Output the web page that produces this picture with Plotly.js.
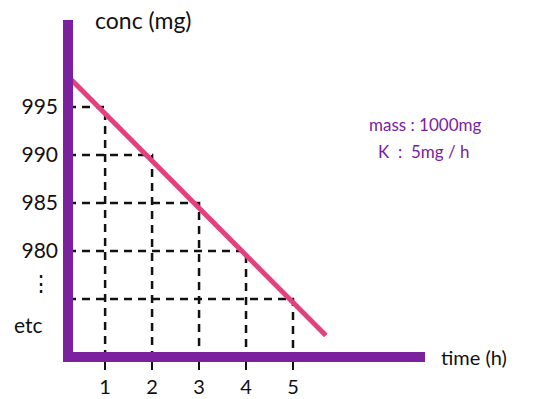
<!DOCTYPE html>
<html>
<head>
<meta charset="utf-8">
<script src="https://cdn.plot.ly/plotly-3.0.1.min.js"></script>
<style>
  html, body { margin: 0; padding: 0; background: #fff; }
  #chart { width: 542px; height: 399px; }
</style>
</head>
<body>
<div id="chart"></div>
<script>
// readings
var timeH = [1, 2, 3, 4, 5];
var concMg = [995, 990, 985, 980, 975];
var yTickVals = [995, 990, 985, 980];
var yTickText = ['995', '990', '985', '980'];
var xTickVals = [1, 2, 3, 4, 5];
var xTickText = ['1', '2', '3', '4', '5'];
var lineT = [0.25, 5.7];
var lineConc = [998.0, 971.2];

var xRange = [0.21, 7.81];
var yRange = [968.96, 1004.06];

var purple = '#7b21a0';
var pink = '#e2417e';
var handFont = 'Lato, "Noto Sans", sans-serif';

var data = [];

// dashed guides: across from the axis, then down to the time axis
for (var i = 0; i < timeH.length; i++) {
    data.push({
        x: [xRange[0], timeH[i], timeH[i]],
        y: [concMg[i], concMg[i], yRange[0]],
        mode: 'lines',
        line: { color: '#111', width: 2.5, dash: '8px,6px' },
        hoverinfo: 'skip',
        showlegend: false
    });
}

data.push({
    x: lineT,
    y: lineConc,
    mode: 'lines',
    line: { color: pink, width: 5 },
    showlegend: false
});

var layout = {
    width: 542,
    height: 399,
    margin: { l: 68, r: 117, t: 20, b: 42 },
    paper_bgcolor: '#fff',
    plot_bgcolor: '#fff',
    showlegend: false,
    font: { family: handFont, color: '#111' },
    xaxis: {
        range: xRange,
        tickvals: xTickVals,
        ticktext: xTickText,
        ticks: 'outside',
        ticklen: 12,
        tickwidth: 2.5,
        tickcolor: '#111',
        tickfont: { size: 20, color: '#111' },
        showgrid: false,
        zeroline: false,
        showline: false
    },
    yaxis: {
        range: yRange,
        tickvals: yTickVals,
        ticktext: yTickText,
        ticks: '',
        ticklabelstandoff: 9,
        tickfont: { size: 21, color: '#111' },
        showgrid: false,
        zeroline: false,
        showline: false
    },
    shapes: [
        { type: 'line', xref: 'paper', yref: 'paper', x0: 0, x1: 0, y0: 0, y1: 1,
          line: { color: purple, width: 10 } },
        { type: 'line', xref: 'paper', yref: 'paper', x0: -0.014, x1: 1, y0: 0, y1: 0,
          line: { color: purple, width: 10 } }
    ],
    annotations: [
        { text: 'conc (mg)', xref: 'paper', yref: 'paper', x: 0.07, y: 1.0,
          xanchor: 'left', yanchor: 'middle', showarrow: false,
          font: { size: 23, color: '#111' } },
        { text: 'time (h)', xref: 'paper', yref: 'paper', x: 1.04, y: 0,
          xanchor: 'left', yanchor: 'middle', showarrow: false,
          font: { size: 20, color: '#111' } },
        { text: 'mass : 1000mg', xref: 'paper', yref: 'paper', x: 1.0, y: 0.69,
          xanchor: 'center', yanchor: 'middle', showarrow: false,
          font: { size: 17, color: purple } },
        { text: 'K  :  5mg / h', xref: 'paper', yref: 'paper', x: 0.995, y: 0.61,
          xanchor: 'center', yanchor: 'middle', showarrow: false,
          font: { size: 17, color: purple } },
        { text: '\u22ee', xref: 'paper', yref: 'paper', x: -0.075, y: 0.22,
          xanchor: 'center', yanchor: 'middle', showarrow: false,
          font: { size: 22, color: '#111' } },
        { text: 'etc', xref: 'paper', yref: 'paper', x: -0.11, y: 0.095,
          xanchor: 'center', yanchor: 'middle', showarrow: false,
          font: { size: 21, color: '#111' } }
    ]
};

Plotly.newPlot('chart', data, layout, { staticPlot: true });
</script>
</body>
</html>
